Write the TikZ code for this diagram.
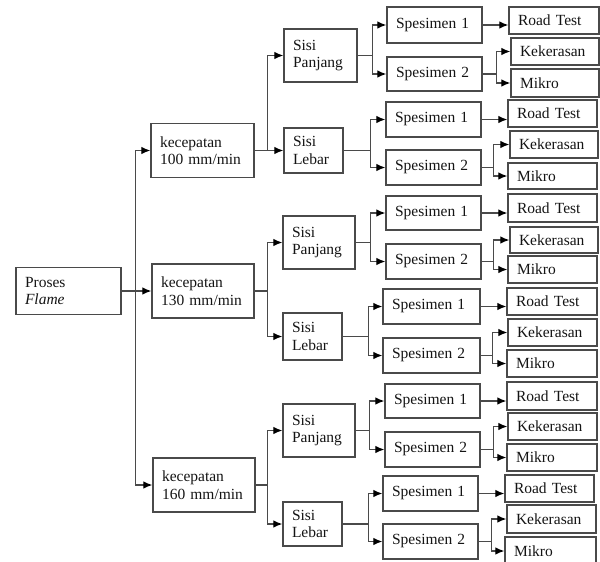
\documentclass[tikz,border=0pt]{standalone}
\usepackage{fontspec}
\setmainfont{Liberation Serif}
\usetikzlibrary{arrows.meta,calc}
\definecolor{lc}{HTML}{4A4A4A}
\definecolor{tc}{HTML}{141414}
\begin{document}
\begin{tikzpicture}[x=1pt,y=-1pt,
  every node/.style={font=\fontsize{15.5}{17.5}\selectfont, text=tc},
  bx/.style n args={3}{draw=lc, line width=1.3pt, rectangle, inner xsep=9pt, inner ysep=0pt,
     align=left, minimum width=#1pt, minimum height=#2pt, text width=#3pt},
  wire/.style={draw=lc, line width=1.2pt},
  arr/.style={wire, -{Latex[length=9pt,width=7.5pt,fill=black,color=black]}}]
\useasboundingbox (0,0) rectangle (600,562);

% level 0 and 1
\node[bx={105}{47}{87}] (P) at (68.5,291) {Proses\\\textit{Flame}};
\node[bx={103}{54}{85}] (K1) at (202.5,150.5) {kecepatan\\100 mm/min};
\node[bx={102}{54}{84}] (K2) at (203,291) {kecepatan\\130 mm/min};
\node[bx={102}{54}{84}] (K3) at (204,485) {kecepatan\\160 mm/min};

\draw[wire] (P.east) -- ++(14,0) coordinate (t);
\draw[arr] (t) |- (K1.west);
\draw[arr] (t) |- (K2.west);
\draw[arr] (t) |- (K3.west);

% level 2
\node[bx={73}{53}{55}] (SP1) at (320.5,55.5) {Sisi\\Panjang};
\node[bx={59}{45}{41}] (SL1) at (313.5,150.5) {Sisi\\Lebar};
\node[bx={72}{53}{54}] (SP2) at (319,242.5) {Sisi\\Panjang};
\node[bx={59}{47}{41}] (SL2) at (312.5,336.5) {Sisi\\Lebar};
\node[bx={72}{53}{54}] (SP3) at (319,430.5) {Sisi\\Panjang};
\node[bx={59}{44}{41}] (SL3) at (312.5,524) {Sisi\\Lebar};

\draw[wire] (K1.east) -- ++(12.5,0) coordinate (b1);
\draw[arr] (b1) |- (SP1.west);
\draw[arr] (b1) |- (SL1.west);
\draw[wire] (K2.east) -- ++(13,0) coordinate (b2);
\draw[arr] (b2) |- (SP2.west);
\draw[arr] (b2) |- (SL2.west);
\draw[wire] (K3.east) -- ++(12,0) coordinate (b3);
\draw[arr] (b3) |- (SP3.west);
\draw[arr] (b3) |- (SL3.west);

% group A (100, Panjang)
\node[bx={95}{36}{77}] (A1) at (434.5,25) {Spesimen 1};
\node[bx={95}{34}{77}] (A2) at (434.5,74) {Spesimen 2};
\node[bx={90}{27}{72}] (AR) at (554,20.5) {Road Test};
\node[bx={88}{27}{70}] (AK) at (555,51.5) {Kekerasan};
\node[bx={88}{28}{70}] (AM) at (555,83) {Mikro};
\draw[wire] (SP1.east) -- ++(15,0) coordinate (ja);
\draw[arr] (ja) |- (A1.west);
\draw[arr] (ja) |- (A2.west);
\draw[arr] (A1.east) -- (A1.east -| AR.west);
\draw[wire] (A2.east) -- ++(14,0) coordinate (ka);
\draw[arr] (ka) |- (AK.west);
\draw[arr] (ka) |- (AM.west);

% group B (100, Lebar)
\node[bx={95}{35}{77}] (B1) at (433.5,119.5) {Spesimen 1};
\node[bx={95}{35}{77}] (B2) at (433.5,167.5) {Spesimen 2};
\node[bx={89}{27}{71}] (BR) at (552.5,113.5) {Road Test};
\node[bx={88}{27}{70}] (BK) at (554,144.5) {Kekerasan};
\node[bx={89}{26}{71}] (BM) at (552.5,176) {Mikro};
\draw[wire] (SL1.east) -- ++(27,0) coordinate (jb);
\draw[arr] (jb) |- (B1.west);
\draw[arr] (jb) |- (B2.west);
\draw[arr] (B1.east) -- (B1.east -| BR.west);
\draw[wire] (B2.east) -- ++(12,0) coordinate (kb);
\draw[arr] (kb) |- (BK.west);
\draw[arr] (kb) |- (BM.west);

% group C (130, Panjang)
\node[bx={95}{34}{77}] (C1) at (433.5,213) {Spesimen 1};
\node[bx={95}{35}{77}] (C2) at (433.5,261.5) {Spesimen 2};
\node[bx={89}{28}{71}] (CR) at (552.5,208) {Road Test};
\node[bx={88}{26}{70}] (CK) at (554,240) {Kekerasan};
\node[bx={89}{27}{71}] (CM) at (552.5,269.5) {Mikro};
\draw[wire] (SP2.east) -- ++(15,0) coordinate (jc);
\draw[arr] (jc) |- (C1.west);
\draw[arr] (jc) |- (C2.west);
\draw[arr] (C1.east) -- (C1.east -| CR.west);
\draw[wire] (C2.east) -- ++(12,0) coordinate (kc);
\draw[arr] (kc) |- (CK.west);
\draw[arr] (kc) |- (CM.west);

% group D (130, Lebar)
\node[bx={97}{35}{79}] (D1) at (431.5,306.5) {Spesimen 1};
\node[bx={97}{35}{79}] (D2) at (431.5,355.5) {Spesimen 2};
\node[bx={90}{27}{72}] (DR) at (552,301.5) {Road Test};
\node[bx={89}{27}{71}] (DK) at (552.5,332.5) {Kekerasan};
\node[bx={90}{27}{72}] (DM) at (552,363.5) {Mikro};
\draw[wire] (SL2.east) -- ++(26,0) coordinate (jd);
\draw[arr] (jd) |- (D1.west);
\draw[arr] (jd) |- (D2.west);
\draw[arr] (D1.east) -- (D1.east -| DR.west);
\draw[wire] (D2.east) -- ++(12,0) coordinate (kd);
\draw[arr] (kd) |- (DK.west);
\draw[arr] (kd) |- (DM.west);

% group E (160, Panjang)
\node[bx={95}{34}{77}] (E1) at (432.5,401) {Spesimen 1};
\node[bx={95}{35}{77}] (E2) at (432.5,449.5) {Spesimen 2};
\node[bx={90}{28}{72}] (ER) at (552,396) {Road Test};
\node[bx={89}{27}{71}] (EK) at (552.5,426.5) {Kekerasan};
\node[bx={90}{27}{72}] (EM) at (552,457.5) {Mikro};
\draw[wire] (SP3.east) -- ++(14,0) coordinate (je);
\draw[arr] (je) |- (E1.west);
\draw[arr] (je) |- (E2.west);
\draw[arr] (E1.east) -- (E1.east -| ER.west);
\draw[wire] (E2.east) -- ++(13,0) coordinate (ke);
\draw[arr] (ke) |- (EK.west);
\draw[arr] (ke) |- (EM.west);

% group F (160, Lebar)
\node[bx={95}{35}{77}] (F1) at (430.5,493.5) {Spesimen 1};
\node[bx={95}{35}{77}] (F2) at (430.5,541.5) {Spesimen 2};
\node[bx={89}{27}{71}] (FR) at (549.5,488.5) {Road Test};
\node[bx={89}{28}{71}] (FK) at (551.5,519) {Kekerasan};
\node[bx={91}{28}{73}] (FM) at (550.5,551) {Mikro};
\draw[wire] (SL3.east) -- ++(26,0) coordinate (jf);
\draw[arr] (jf) |- (F1.west);
\draw[arr] (jf) |- (F2.west);
\draw[arr] (F1.east) -- (F1.east -| FR.west);
\draw[wire] (F2.east) -- ++(13,0) coordinate (kf);
\draw[arr] (kf) |- (FK.west);
\draw[arr] (kf) |- (FM.west);
\end{tikzpicture}
\end{document}
